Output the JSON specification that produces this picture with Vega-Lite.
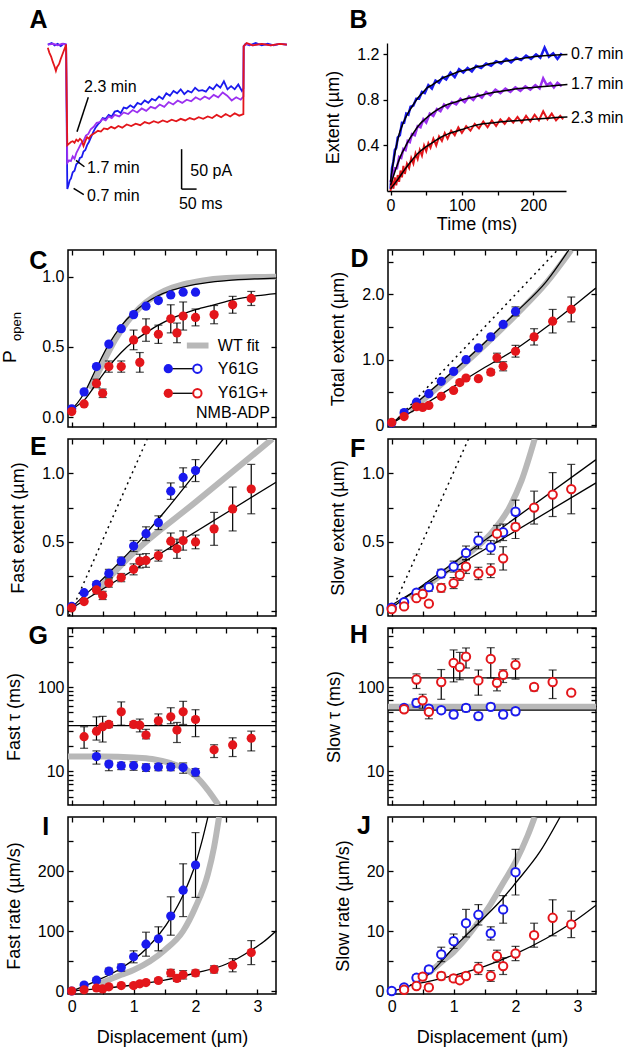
{
"$schema":"https://vega.github.io/schema/vega-lite/v6.json",
"background":"white",
"padding":{"left":0,"top":8,"right":5,"bottom":5},
"spacing":13,
"datasets":{
"ta":[
{"k":"b","t":-63,"v":0},{"k":"b","t":-50,"v":2},{"k":"b","t":-40,"v":-1},{"k":"b","t":-30,"v":1},{"k":"b","t":-20,"v":-2},{"k":"b","t":-10,"v":1},{"k":"b","t":-2,"v":0},{"k":"b","t":0,"v":-100},{"k":"b","t":2,"v":-181},{"k":"b","t":6,"v":-176},{"k":"b","t":10,"v":-170},{"k":"b","t":14,"v":-168},{"k":"b","t":20,"v":-160},{"k":"b","t":26,"v":-158},{"k":"b","t":32,"v":-150},{"k":"b","t":38,"v":-148},{"k":"b","t":44,"v":-142},{"k":"b","t":50,"v":-141},{"k":"b","t":56,"v":-134},{"k":"b","t":62,"v":-132},{"k":"b","t":68,"v":-126},{"k":"b","t":74,"v":-122},{"k":"b","t":80,"v":-117},{"k":"b","t":88,"v":-110},{"k":"b","t":96,"v":-104},{"k":"b","t":104,"v":-100},{"k":"b","t":112,"v":-97},{"k":"b","t":120,"v":-92},{"k":"b","t":130,"v":-93},{"k":"b","t":140,"v":-88},{"k":"b","t":150,"v":-90},{"k":"b","t":160,"v":-84},{"k":"b","t":170,"v":-83},{"k":"b","t":180,"v":-86},{"k":"b","t":190,"v":-79},{"k":"b","t":200,"v":-80},{"k":"b","t":212,"v":-76},{"k":"b","t":224,"v":-79},{"k":"b","t":236,"v":-73},{"k":"b","t":248,"v":-75},{"k":"b","t":260,"v":-70},{"k":"b","t":272,"v":-73},{"k":"b","t":284,"v":-68},{"k":"b","t":296,"v":-70},{"k":"b","t":308,"v":-65},{"k":"b","t":320,"v":-68},{"k":"b","t":332,"v":-61},{"k":"b","t":344,"v":-64},{"k":"b","t":356,"v":-58},{"k":"b","t":368,"v":-61},{"k":"b","t":380,"v":-56},{"k":"b","t":392,"v":-62},{"k":"b","t":404,"v":-58},{"k":"b","t":416,"v":-60},{"k":"b","t":428,"v":-54},{"k":"b","t":440,"v":-58},{"k":"b","t":452,"v":-57},{"k":"b","t":464,"v":-59},{"k":"b","t":476,"v":-53},{"k":"b","t":488,"v":-56},{"k":"b","t":500,"v":-50},{"k":"b","t":512,"v":-54},{"k":"b","t":524,"v":-46},{"k":"b","t":536,"v":-56},{"k":"b","t":548,"v":-52},{"k":"b","t":560,"v":-56},{"k":"b","t":572,"v":-50},{"k":"b","t":584,"v":-58},{"k":"b","t":589,"v":-55},{"k":"b","t":590,"v":-2},{"k":"b","t":596,"v":1},{"k":"b","t":610,"v":-1},{"k":"b","t":630,"v":2},{"k":"b","t":650,"v":-1},{"k":"b","t":670,"v":1},{"k":"b","t":690,"v":-1},{"k":"b","t":710,"v":1},{"k":"b","t":734,"v":0},
{"k":"p","t":-63,"v":0},{"k":"p","t":-45,"v":1},{"k":"p","t":-30,"v":-1},{"k":"p","t":-15,"v":1},{"k":"p","t":-2,"v":0},{"k":"p","t":0,"v":-80},{"k":"p","t":2,"v":-148},{"k":"p","t":8,"v":-145},{"k":"p","t":14,"v":-146},{"k":"p","t":20,"v":-140},{"k":"p","t":26,"v":-143},{"k":"p","t":32,"v":-136},{"k":"p","t":40,"v":-130},{"k":"p","t":48,"v":-124},{"k":"p","t":56,"v":-121},{"k":"p","t":64,"v":-114},{"k":"p","t":72,"v":-112},{"k":"p","t":80,"v":-106},{"k":"p","t":90,"v":-103},{"k":"p","t":100,"v":-98},{"k":"p","t":110,"v":-97},{"k":"p","t":120,"v":-93},{"k":"p","t":130,"v":-95},{"k":"p","t":140,"v":-90},{"k":"p","t":150,"v":-92},{"k":"p","t":160,"v":-88},{"k":"p","t":175,"v":-90},{"k":"p","t":190,"v":-85},{"k":"p","t":205,"v":-87},{"k":"p","t":220,"v":-82},{"k":"p","t":235,"v":-85},{"k":"p","t":250,"v":-80},{"k":"p","t":265,"v":-83},{"k":"p","t":280,"v":-78},{"k":"p","t":295,"v":-80},{"k":"p","t":310,"v":-75},{"k":"p","t":325,"v":-78},{"k":"p","t":340,"v":-72},{"k":"p","t":355,"v":-75},{"k":"p","t":370,"v":-70},{"k":"p","t":385,"v":-73},{"k":"p","t":400,"v":-69},{"k":"p","t":415,"v":-71},{"k":"p","t":430,"v":-66},{"k":"p","t":445,"v":-69},{"k":"p","t":460,"v":-65},{"k":"p","t":475,"v":-68},{"k":"p","t":490,"v":-63},{"k":"p","t":505,"v":-66},{"k":"p","t":520,"v":-60},{"k":"p","t":535,"v":-64},{"k":"p","t":550,"v":-70},{"k":"p","t":565,"v":-66},{"k":"p","t":580,"v":-69},{"k":"p","t":589,"v":-65},{"k":"p","t":590,"v":-2},{"k":"p","t":600,"v":1},{"k":"p","t":620,"v":-1},{"k":"p","t":650,"v":1},{"k":"p","t":680,"v":-1},{"k":"p","t":710,"v":1},{"k":"p","t":734,"v":0},
{"k":"r","t":-63,"v":-4},{"k":"r","t":-58,"v":-10},{"k":"r","t":-52,"v":-15},{"k":"r","t":-46,"v":-22},{"k":"r","t":-40,"v":-28},{"k":"r","t":-36,"v":-33},{"k":"r","t":-32,"v":-28},{"k":"r","t":-28,"v":-26},{"k":"r","t":-25,"v":-24},{"k":"r","t":-20,"v":-18},{"k":"r","t":-15,"v":-13},{"k":"r","t":-10,"v":-8},{"k":"r","t":-5,"v":-3},{"k":"r","t":-2,"v":0},{"k":"r","t":0,"v":-70},{"k":"r","t":2,"v":-126},{"k":"r","t":8,"v":-124},{"k":"r","t":14,"v":-122},{"k":"r","t":20,"v":-121},{"k":"r","t":26,"v":-123},{"k":"r","t":32,"v":-119},{"k":"r","t":38,"v":-121},{"k":"r","t":44,"v":-118},{"k":"r","t":50,"v":-120},{"k":"r","t":56,"v":-127},{"k":"r","t":62,"v":-121},{"k":"r","t":68,"v":-116},{"k":"r","t":74,"v":-118},{"k":"r","t":80,"v":-114},{"k":"r","t":88,"v":-112},{"k":"r","t":96,"v":-110},{"k":"r","t":104,"v":-108},{"k":"r","t":114,"v":-109},{"k":"r","t":124,"v":-105},{"k":"r","t":136,"v":-106},{"k":"r","t":148,"v":-103},{"k":"r","t":160,"v":-105},{"k":"r","t":172,"v":-102},{"k":"r","t":185,"v":-104},{"k":"r","t":200,"v":-100},{"k":"r","t":215,"v":-102},{"k":"r","t":230,"v":-99},{"k":"r","t":245,"v":-101},{"k":"r","t":260,"v":-97},{"k":"r","t":275,"v":-99},{"k":"r","t":290,"v":-96},{"k":"r","t":305,"v":-98},{"k":"r","t":320,"v":-95},{"k":"r","t":335,"v":-97},{"k":"r","t":350,"v":-94},{"k":"r","t":365,"v":-96},{"k":"r","t":380,"v":-93},{"k":"r","t":395,"v":-95},{"k":"r","t":410,"v":-92},{"k":"r","t":425,"v":-94},{"k":"r","t":440,"v":-91},{"k":"r","t":455,"v":-93},{"k":"r","t":470,"v":-90},{"k":"r","t":485,"v":-92},{"k":"r","t":500,"v":-88},{"k":"r","t":515,"v":-91},{"k":"r","t":530,"v":-87},{"k":"r","t":545,"v":-90},{"k":"r","t":560,"v":-86},{"k":"r","t":575,"v":-89},{"k":"r","t":589,"v":-87},{"k":"r","t":590,"v":-2},{"k":"r","t":600,"v":2},{"k":"r","t":620,"v":-1},{"k":"r","t":650,"v":1},{"k":"r","t":680,"v":-1},{"k":"r","t":710,"v":1},{"k":"r","t":734,"v":0}
],
"tb":[
{"k":"b","t":0,"v":0.02},{"k":"b","t":2,"v":0.2},{"k":"b","t":4,"v":0.26},{"k":"b","t":6,"v":0.36},{"k":"b","t":8,"v":0.38},{"k":"b","t":10,"v":0.47},{"k":"b","t":13,"v":0.49},{"k":"b","t":16,"v":0.6},{"k":"b","t":19,"v":0.6},{"k":"b","t":22,"v":0.68},{"k":"b","t":25,"v":0.67},{"k":"b","t":28,"v":0.74},{"k":"b","t":32,"v":0.75},{"k":"b","t":36,"v":0.81},{"k":"b","t":40,"v":0.81},{"k":"b","t":44,"v":0.87},{"k":"b","t":48,"v":0.86},{"k":"b","t":53,"v":0.93},{"k":"b","t":58,"v":0.9},{"k":"b","t":63,"v":0.97},{"k":"b","t":68,"v":0.95},{"k":"b","t":73,"v":1.0},{"k":"b","t":78,"v":0.98},{"k":"b","t":84,"v":1.04},{"k":"b","t":90,"v":1.0},{"k":"b","t":96,"v":1.07},{"k":"b","t":102,"v":1.04},{"k":"b","t":108,"v":1.08},{"k":"b","t":114,"v":1.05},{"k":"b","t":120,"v":1.1},{"k":"b","t":127,"v":1.08},{"k":"b","t":134,"v":1.12},{"k":"b","t":141,"v":1.1},{"k":"b","t":148,"v":1.14},{"k":"b","t":155,"v":1.12},{"k":"b","t":162,"v":1.16},{"k":"b","t":169,"v":1.13},{"k":"b","t":176,"v":1.17},{"k":"b","t":183,"v":1.15},{"k":"b","t":190,"v":1.19},{"k":"b","t":197,"v":1.16},{"k":"b","t":204,"v":1.2},{"k":"b","t":210,"v":1.17},{"k":"b","t":216,"v":1.26},{"k":"b","t":222,"v":1.18},{"k":"b","t":228,"v":1.21},{"k":"b","t":234,"v":1.16},{"k":"b","t":240,"v":1.21},
{"k":"p","t":0,"v":0.08},{"k":"p","t":3,"v":0.14},{"k":"p","t":6,"v":0.2},{"k":"p","t":9,"v":0.2},{"k":"p","t":12,"v":0.3},{"k":"p","t":15,"v":0.29},{"k":"p","t":18,"v":0.37},{"k":"p","t":21,"v":0.36},{"k":"p","t":24,"v":0.44},{"k":"p","t":27,"v":0.43},{"k":"p","t":30,"v":0.5},{"k":"p","t":34,"v":0.49},{"k":"p","t":38,"v":0.57},{"k":"p","t":42,"v":0.56},{"k":"p","t":46,"v":0.63},{"k":"p","t":50,"v":0.6},{"k":"p","t":55,"v":0.68},{"k":"p","t":60,"v":0.66},{"k":"p","t":65,"v":0.72},{"k":"p","t":70,"v":0.7},{"k":"p","t":75,"v":0.76},{"k":"p","t":80,"v":0.73},{"k":"p","t":86,"v":0.78},{"k":"p","t":92,"v":0.76},{"k":"p","t":98,"v":0.81},{"k":"p","t":104,"v":0.78},{"k":"p","t":110,"v":0.83},{"k":"p","t":116,"v":0.8},{"k":"p","t":122,"v":0.85},{"k":"p","t":128,"v":0.82},{"k":"p","t":134,"v":0.87},{"k":"p","t":140,"v":0.84},{"k":"p","t":147,"v":0.89},{"k":"p","t":154,"v":0.86},{"k":"p","t":161,"v":0.9},{"k":"p","t":168,"v":0.87},{"k":"p","t":175,"v":0.91},{"k":"p","t":182,"v":0.88},{"k":"p","t":189,"v":0.92},{"k":"p","t":196,"v":0.89},{"k":"p","t":203,"v":0.93},{"k":"p","t":209,"v":0.9},{"k":"p","t":214,"v":0.99},{"k":"p","t":219,"v":0.93},{"k":"p","t":224,"v":0.95},{"k":"p","t":229,"v":0.91},{"k":"p","t":234,"v":0.95},{"k":"p","t":240,"v":0.92},
{"k":"r","t":0,"v":0.0},{"k":"r","t":2,"v":0.1},{"k":"r","t":4,"v":0.02},{"k":"r","t":6,"v":0.12},{"k":"r","t":8,"v":0.05},{"k":"r","t":10,"v":0.14},{"k":"r","t":12,"v":0.08},{"k":"r","t":14,"v":0.18},{"k":"r","t":16,"v":0.12},{"k":"r","t":18,"v":0.22},{"k":"r","t":20,"v":0.15},{"k":"r","t":23,"v":0.24},{"k":"r","t":26,"v":0.2},{"k":"r","t":29,"v":0.29},{"k":"r","t":32,"v":0.24},{"k":"r","t":35,"v":0.33},{"k":"r","t":38,"v":0.28},{"k":"r","t":41,"v":0.36},{"k":"r","t":44,"v":0.31},{"k":"r","t":47,"v":0.4},{"k":"r","t":50,"v":0.35},{"k":"r","t":53,"v":0.42},{"k":"r","t":56,"v":0.38},{"k":"r","t":60,"v":0.46},{"k":"r","t":64,"v":0.4},{"k":"r","t":68,"v":0.48},{"k":"r","t":72,"v":0.44},{"k":"r","t":76,"v":0.51},{"k":"r","t":80,"v":0.46},{"k":"r","t":85,"v":0.53},{"k":"r","t":90,"v":0.49},{"k":"r","t":95,"v":0.56},{"k":"r","t":100,"v":0.51},{"k":"r","t":106,"v":0.57},{"k":"r","t":112,"v":0.53},{"k":"r","t":118,"v":0.59},{"k":"r","t":124,"v":0.55},{"k":"r","t":130,"v":0.61},{"k":"r","t":136,"v":0.56},{"k":"r","t":142,"v":0.62},{"k":"r","t":148,"v":0.57},{"k":"r","t":154,"v":0.63},{"k":"r","t":160,"v":0.59},{"k":"r","t":166,"v":0.64},{"k":"r","t":172,"v":0.6},{"k":"r","t":178,"v":0.65},{"k":"r","t":184,"v":0.6},{"k":"r","t":190,"v":0.66},{"k":"r","t":196,"v":0.61},{"k":"r","t":202,"v":0.67},{"k":"r","t":208,"v":0.62},{"k":"r","t":214,"v":0.7},{"k":"r","t":220,"v":0.63},{"k":"r","t":226,"v":0.68},{"k":"r","t":232,"v":0.62},{"k":"r","t":238,"v":0.66},{"k":"r","t":242,"v":0.63}
],
"fb":[
{"k":"b","t":0,"v":0.08},{"k":"b","t":3,"v":0.22},{"k":"b","t":6,"v":0.33},{"k":"b","t":9,"v":0.42},{"k":"b","t":12,"v":0.5},{"k":"b","t":16,"v":0.57},{"k":"b","t":20,"v":0.63},{"k":"b","t":25,"v":0.69},{"k":"b","t":30,"v":0.74},{"k":"b","t":35,"v":0.79},{"k":"b","t":40,"v":0.83},{"k":"b","t":46,"v":0.87},{"k":"b","t":52,"v":0.91},{"k":"b","t":58,"v":0.93},{"k":"b","t":65,"v":0.96},{"k":"b","t":72,"v":0.99},{"k":"b","t":80,"v":1.01},{"k":"b","t":88,"v":1.03},{"k":"b","t":96,"v":1.05},{"k":"b","t":104,"v":1.06},{"k":"b","t":112,"v":1.07},{"k":"b","t":120,"v":1.09},{"k":"b","t":130,"v":1.1},{"k":"b","t":140,"v":1.12},{"k":"b","t":150,"v":1.13},{"k":"b","t":160,"v":1.14},{"k":"b","t":170,"v":1.15},{"k":"b","t":180,"v":1.16},{"k":"b","t":190,"v":1.17},{"k":"b","t":200,"v":1.18},{"k":"b","t":220,"v":1.19},{"k":"b","t":248,"v":1.2},
{"k":"p","t":0,"v":0.05},{"k":"p","t":5,"v":0.15},{"k":"p","t":10,"v":0.24},{"k":"p","t":15,"v":0.32},{"k":"p","t":20,"v":0.38},{"k":"p","t":25,"v":0.44},{"k":"p","t":30,"v":0.49},{"k":"p","t":40,"v":0.58},{"k":"p","t":50,"v":0.64},{"k":"p","t":60,"v":0.69},{"k":"p","t":70,"v":0.73},{"k":"p","t":80,"v":0.76},{"k":"p","t":90,"v":0.78},{"k":"p","t":100,"v":0.8},{"k":"p","t":120,"v":0.83},{"k":"p","t":140,"v":0.86},{"k":"p","t":160,"v":0.88},{"k":"p","t":180,"v":0.9},{"k":"p","t":200,"v":0.91},{"k":"p","t":220,"v":0.92},{"k":"p","t":248,"v":0.935},
{"k":"r","t":0,"v":0.02},{"k":"r","t":10,"v":0.1},{"k":"r","t":20,"v":0.19},{"k":"r","t":30,"v":0.27},{"k":"r","t":40,"v":0.34},{"k":"r","t":50,"v":0.39},{"k":"r","t":60,"v":0.43},{"k":"r","t":70,"v":0.47},{"k":"r","t":80,"v":0.5},{"k":"r","t":90,"v":0.52},{"k":"r","t":100,"v":0.54},{"k":"r","t":115,"v":0.57},{"k":"r","t":130,"v":0.59},{"k":"r","t":145,"v":0.6},{"k":"r","t":160,"v":0.61},{"k":"r","t":180,"v":0.62},{"k":"r","t":200,"v":0.63},{"k":"r","t":220,"v":0.64},{"k":"r","t":248,"v":0.65}
],
"lines":[
{"p":"C","k":"Cw","t":"wt","x":0.3,"y":0.2},{"p":"C","k":"Cw","t":"wt","x":0.5,"y":0.38},{"p":"C","k":"Cw","t":"wt","x":0.7,"y":0.55},{"p":"C","k":"Cw","t":"wt","x":0.9,"y":0.68},{"p":"C","k":"Cw","t":"wt","x":1.1,"y":0.78},{"p":"C","k":"Cw","t":"wt","x":1.3,"y":0.85},{"p":"C","k":"Cw","t":"wt","x":1.5,"y":0.9},{"p":"C","k":"Cw","t":"wt","x":1.8,"y":0.945},{"p":"C","k":"Cw","t":"wt","x":2.1,"y":0.972},{"p":"C","k":"Cw","t":"wt","x":2.5,"y":0.99},{"p":"C","k":"Cw","t":"wt","x":3.3,"y":1.0},
{"p":"C","k":"Cb","t":"fit","x":-0.06,"y":0.045},{"p":"C","k":"Cb","t":"fit","x":0,"y":0.06},{"p":"C","k":"Cb","t":"fit","x":0.2,"y":0.17},{"p":"C","k":"Cb","t":"fit","x":0.4,"y":0.35},{"p":"C","k":"Cb","t":"fit","x":0.6,"y":0.52},{"p":"C","k":"Cb","t":"fit","x":0.8,"y":0.65},{"p":"C","k":"Cb","t":"fit","x":1.0,"y":0.745},{"p":"C","k":"Cb","t":"fit","x":1.2,"y":0.815},{"p":"C","k":"Cb","t":"fit","x":1.4,"y":0.865},{"p":"C","k":"Cb","t":"fit","x":1.6,"y":0.9},{"p":"C","k":"Cb","t":"fit","x":1.8,"y":0.925},{"p":"C","k":"Cb","t":"fit","x":2.0,"y":0.945},{"p":"C","k":"Cb","t":"fit","x":2.5,"y":0.972},{"p":"C","k":"Cb","t":"fit","x":3.0,"y":0.985},{"p":"C","k":"Cb","t":"fit","x":3.3,"y":0.99},
{"p":"C","k":"Cr","t":"fit","x":-0.06,"y":0.02},{"p":"C","k":"Cr","t":"fit","x":0,"y":0.05},{"p":"C","k":"Cr","t":"fit","x":0.2,"y":0.12},{"p":"C","k":"Cr","t":"fit","x":0.4,"y":0.24},{"p":"C","k":"Cr","t":"fit","x":0.6,"y":0.36},{"p":"C","k":"Cr","t":"fit","x":0.8,"y":0.46},{"p":"C","k":"Cr","t":"fit","x":1.0,"y":0.54},{"p":"C","k":"Cr","t":"fit","x":1.2,"y":0.6},{"p":"C","k":"Cr","t":"fit","x":1.4,"y":0.655},{"p":"C","k":"Cr","t":"fit","x":1.6,"y":0.7},{"p":"C","k":"Cr","t":"fit","x":1.8,"y":0.735},{"p":"C","k":"Cr","t":"fit","x":2.0,"y":0.765},{"p":"C","k":"Cr","t":"fit","x":2.3,"y":0.8},{"p":"C","k":"Cr","t":"fit","x":2.6,"y":0.835},{"p":"C","k":"Cr","t":"fit","x":3.0,"y":0.865},{"p":"C","k":"Cr","t":"fit","x":3.3,"y":0.88},
{"p":"D","k":"Dd","t":"dot","x":-0.03,"y":-0.03},{"p":"D","k":"Dd","t":"dot","x":2.68,"y":2.68},
{"p":"D","k":"Dw","t":"wt","x":0.3,"y":0.22},{"p":"D","k":"Dw","t":"wt","x":1.0,"y":0.79},{"p":"D","k":"Dw","t":"wt","x":1.5,"y":1.22},{"p":"D","k":"Dw","t":"wt","x":2.0,"y":1.68},{"p":"D","k":"Dw","t":"wt","x":2.5,"y":2.18},{"p":"D","k":"Dw","t":"wt","x":2.9,"y":2.68},
{"p":"D","k":"Db","t":"fit","x":-0.06,"y":-0.03},{"p":"D","k":"Db","t":"fit","x":0,"y":0.02},{"p":"D","k":"Db","t":"fit","x":0.4,"y":0.34},{"p":"D","k":"Db","t":"fit","x":1.0,"y":0.83},{"p":"D","k":"Db","t":"fit","x":1.5,"y":1.26},{"p":"D","k":"Db","t":"fit","x":2.0,"y":1.72},{"p":"D","k":"Db","t":"fit","x":2.5,"y":2.2},{"p":"D","k":"Db","t":"fit","x":2.86,"y":2.68},
{"p":"D","k":"Dr","t":"fit","x":-0.06,"y":-0.02},{"p":"D","k":"Dr","t":"fit","x":0,"y":0.02},{"p":"D","k":"Dr","t":"fit","x":0.5,"y":0.3},{"p":"D","k":"Dr","t":"fit","x":1.0,"y":0.59},{"p":"D","k":"Dr","t":"fit","x":1.5,"y":0.88},{"p":"D","k":"Dr","t":"fit","x":2.0,"y":1.16},{"p":"D","k":"Dr","t":"fit","x":2.5,"y":1.5},{"p":"D","k":"Dr","t":"fit","x":3.0,"y":1.87},{"p":"D","k":"Dr","t":"fit","x":3.3,"y":2.1},
{"p":"E","k":"Ed","t":"dot","x":-0.04,"y":-0.04},{"p":"E","k":"Ed","t":"dot","x":1.22,"y":1.25},
{"p":"E","k":"Ew","t":"wt","x":0.4,"y":0.14},{"p":"E","k":"Ew","t":"wt","x":1.0,"y":0.42},{"p":"E","k":"Ew","t":"wt","x":2.0,"y":0.79},{"p":"E","k":"Ew","t":"wt","x":3.24,"y":1.25},
{"p":"E","k":"Eb","t":"fit","x":-0.06,"y":-0.01},{"p":"E","k":"Eb","t":"fit","x":0,"y":0.02},{"p":"E","k":"Eb","t":"fit","x":0.5,"y":0.23},{"p":"E","k":"Eb","t":"fit","x":1.0,"y":0.46},{"p":"E","k":"Eb","t":"fit","x":1.5,"y":0.72},{"p":"E","k":"Eb","t":"fit","x":2.0,"y":1.0},{"p":"E","k":"Eb","t":"fit","x":2.45,"y":1.25},
{"p":"E","k":"Er","t":"fit","x":-0.06,"y":0.0},{"p":"E","k":"Er","t":"fit","x":3.3,"y":0.935},
{"p":"F","k":"Fd","t":"dot","x":0,"y":0},{"p":"F","k":"Fd","t":"dot","x":1.24,"y":1.25},
{"p":"F","k":"Fw","t":"wt","x":0.3,"y":0.09},{"p":"F","k":"Fw","t":"wt","x":0.8,"y":0.26},{"p":"F","k":"Fw","t":"wt","x":1.2,"y":0.4},{"p":"F","k":"Fw","t":"wt","x":1.6,"y":0.56},{"p":"F","k":"Fw","t":"wt","x":1.9,"y":0.75},{"p":"F","k":"Fw","t":"wt","x":2.1,"y":0.95},{"p":"F","k":"Fw","t":"wt","x":2.31,"y":1.25},
{"p":"F","k":"Fb","t":"fit","x":0,"y":0.02},{"p":"F","k":"Fb","t":"fit","x":3.3,"y":1.1},
{"p":"F","k":"Fr","t":"fit","x":0,"y":0.04},{"p":"F","k":"Fr","t":"fit","x":3.3,"y":0.93},
{"p":"G","k":"Gf","t":"fit","x":-0.06,"y":34.8},{"p":"G","k":"Gf","t":"fit","x":3.3,"y":34.8},
{"p":"G","k":"Gw","t":"wt","x":-0.06,"y":15},{"p":"G","k":"Gw","t":"wt","x":0.5,"y":15},{"p":"G","k":"Gw","t":"wt","x":1.0,"y":14.6},{"p":"G","k":"Gw","t":"wt","x":1.3,"y":14},{"p":"G","k":"Gw","t":"wt","x":1.6,"y":12.5},{"p":"G","k":"Gw","t":"wt","x":1.8,"y":11},{"p":"G","k":"Gw","t":"wt","x":2.0,"y":8.8},{"p":"G","k":"Gw","t":"wt","x":2.2,"y":6},{"p":"G","k":"Gw","t":"wt","x":2.37,"y":4},
{"p":"H","k":"Hr","t":"fit","x":-0.06,"y":128.6},{"p":"H","k":"Hr","t":"fit","x":3.3,"y":128.6},
{"p":"H","k":"Hb","t":"fit","x":-0.06,"y":53.1},{"p":"H","k":"Hb","t":"fit","x":3.3,"y":53.1},
{"p":"H","k":"Hw","t":"wt","x":-0.06,"y":58.2},{"p":"H","k":"Hw","t":"wt","x":3.3,"y":58.2},
{"p":"I","k":"Ib","t":"fit","x":0,"y":0},{"p":"I","k":"Ib","t":"fit","x":0.4,"y":17},{"p":"I","k":"Ib","t":"fit","x":0.8,"y":38},{"p":"I","k":"Ib","t":"fit","x":1.2,"y":70},{"p":"I","k":"Ib","t":"fit","x":1.6,"y":122},{"p":"I","k":"Ib","t":"fit","x":1.8,"y":160},{"p":"I","k":"Ib","t":"fit","x":2.0,"y":212},{"p":"I","k":"Ib","t":"fit","x":2.1,"y":248},{"p":"I","k":"Ib","t":"fit","x":2.2,"y":290},
{"p":"I","k":"Ir","t":"fit","x":-0.06,"y":0},{"p":"I","k":"Ir","t":"fit","x":0.5,"y":4.5},{"p":"I","k":"Ir","t":"fit","x":1.0,"y":10},{"p":"I","k":"Ir","t":"fit","x":1.5,"y":18},{"p":"I","k":"Ir","t":"fit","x":2.0,"y":30},{"p":"I","k":"Ir","t":"fit","x":2.5,"y":45},{"p":"I","k":"Ir","t":"fit","x":2.9,"y":68},{"p":"I","k":"Ir","t":"fit","x":3.1,"y":82},{"p":"I","k":"Ir","t":"fit","x":3.3,"y":100},
{"p":"I","k":"Iw","t":"wt","x":0.45,"y":12},{"p":"I","k":"Iw","t":"wt","x":0.8,"y":27},{"p":"I","k":"Iw","t":"wt","x":1.0,"y":35},{"p":"I","k":"Iw","t":"wt","x":1.5,"y":68},{"p":"I","k":"Iw","t":"wt","x":1.8,"y":100},{"p":"I","k":"Iw","t":"wt","x":2.0,"y":140},{"p":"I","k":"Iw","t":"wt","x":2.2,"y":195},{"p":"I","k":"Iw","t":"wt","x":2.3,"y":240},{"p":"I","k":"Iw","t":"wt","x":2.38,"y":290},
{"p":"J","k":"Jb","t":"fit","x":-0.06,"y":-0.1},{"p":"J","k":"Jb","t":"fit","x":0,"y":0},{"p":"J","k":"Jb","t":"fit","x":0.3,"y":0.9},{"p":"J","k":"Jb","t":"fit","x":0.6,"y":2.8},{"p":"J","k":"Jb","t":"fit","x":1.0,"y":7.2},{"p":"J","k":"Jb","t":"fit","x":1.4,"y":11.3},{"p":"J","k":"Jb","t":"fit","x":1.8,"y":15.5},{"p":"J","k":"Jb","t":"fit","x":2.0,"y":18},{"p":"J","k":"Jb","t":"fit","x":2.4,"y":23.3},{"p":"J","k":"Jb","t":"fit","x":2.72,"y":29},
{"p":"J","k":"Jw","t":"wt","x":0.6,"y":3},{"p":"J","k":"Jw","t":"wt","x":0.8,"y":4.8},{"p":"J","k":"Jw","t":"wt","x":1.0,"y":6.5},{"p":"J","k":"Jw","t":"wt","x":1.2,"y":8.8},{"p":"J","k":"Jw","t":"wt","x":1.4,"y":11.5},{"p":"J","k":"Jw","t":"wt","x":1.6,"y":14.5},{"p":"J","k":"Jw","t":"wt","x":1.8,"y":18},{"p":"J","k":"Jw","t":"wt","x":2.0,"y":21.5},{"p":"J","k":"Jw","t":"wt","x":2.2,"y":26},{"p":"J","k":"Jw","t":"wt","x":2.31,"y":29},
{"p":"J","k":"Jr","t":"fit","x":0.3,"y":1.0},{"p":"J","k":"Jr","t":"fit","x":0.6,"y":1.6},{"p":"J","k":"Jr","t":"fit","x":1.0,"y":2.6},{"p":"J","k":"Jr","t":"fit","x":1.5,"y":4.1},{"p":"J","k":"Jr","t":"fit","x":2.0,"y":6.2},{"p":"J","k":"Jr","t":"fit","x":2.5,"y":8.8},{"p":"J","k":"Jr","t":"fit","x":3.0,"y":12},{"p":"J","k":"Jr","t":"fit","x":3.3,"y":14.3}
],
"pts":[
{"p":"C","s":"b","x":0,"y":0.06},{"p":"C","s":"b","x":0.2,"y":0.18},{"p":"C","s":"b","x":0.4,"y":0.36},{"p":"C","s":"b","x":0.6,"y":0.52},{"p":"C","s":"b","x":0.8,"y":0.63},{"p":"C","s":"b","x":1.0,"y":0.73},{"p":"C","s":"b","x":1.2,"y":0.79},{"p":"C","s":"b","x":1.4,"y":0.83},{"p":"C","s":"b","x":1.6,"y":0.87},{"p":"C","s":"b","x":1.8,"y":0.89},{"p":"C","s":"b","x":2.0,"y":0.89},
{"p":"C","s":"r","x":0,"y":0.04},{"p":"C","s":"r","x":0.2,"y":0.094},{"p":"C","s":"r","x":0.4,"y":0.24,"lo":0.21,"hi":0.27},{"p":"C","s":"r","x":0.5,"y":0.17,"lo":0.14,"hi":0.2},{"p":"C","s":"r","x":0.6,"y":0.36,"lo":0.32,"hi":0.4},{"p":"C","s":"r","x":0.8,"y":0.36,"lo":0.32,"hi":0.4},{"p":"C","s":"r","x":1.0,"y":0.55,"lo":0.48,"hi":0.62},{"p":"C","s":"r","x":1.1,"y":0.39,"lo":0.32,"hi":0.46},{"p":"C","s":"r","x":1.2,"y":0.62,"lo":0.54,"hi":0.7},{"p":"C","s":"r","x":1.4,"y":0.59,"lo":0.525,"hi":0.655},{"p":"C","s":"r","x":1.6,"y":0.7,"lo":0.6,"hi":0.8},{"p":"C","s":"r","x":1.7,"y":0.6,"lo":0.53,"hi":0.67},{"p":"C","s":"r","x":1.8,"y":0.72,"lo":0.62,"hi":0.82},{"p":"C","s":"r","x":2.0,"y":0.71,"lo":0.65,"hi":0.77},{"p":"C","s":"r","x":2.3,"y":0.73,"lo":0.665,"hi":0.795},{"p":"C","s":"r","x":2.6,"y":0.8,"lo":0.74,"hi":0.86},{"p":"C","s":"r","x":2.9,"y":0.845,"lo":0.795,"hi":0.895},
{"p":"D","s":"b","x":0,"y":0.03},{"p":"D","s":"b","x":0.2,"y":0.19},{"p":"D","s":"b","x":0.4,"y":0.35},{"p":"D","s":"b","x":0.6,"y":0.48},{"p":"D","s":"b","x":0.8,"y":0.67},{"p":"D","s":"b","x":1.0,"y":0.82},{"p":"D","s":"b","x":1.2,"y":1.0},{"p":"D","s":"b","x":1.4,"y":1.18},{"p":"D","s":"b","x":1.6,"y":1.35},{"p":"D","s":"b","x":1.8,"y":1.54},{"p":"D","s":"b","x":2.0,"y":1.74,"lo":1.67,"hi":1.81},
{"p":"D","s":"r","x":0,"y":0.04},{"p":"D","s":"r","x":0.2,"y":0.13},{"p":"D","s":"r","x":0.4,"y":0.28},{"p":"D","s":"r","x":0.5,"y":0.27},{"p":"D","s":"r","x":0.6,"y":0.3},{"p":"D","s":"r","x":0.8,"y":0.44},{"p":"D","s":"r","x":1.0,"y":0.53},{"p":"D","s":"r","x":1.1,"y":0.65,"lo":0.62,"hi":0.68},{"p":"D","s":"r","x":1.2,"y":0.72},{"p":"D","s":"r","x":1.4,"y":0.71},{"p":"D","s":"r","x":1.6,"y":0.81,"lo":0.77,"hi":0.85},{"p":"D","s":"r","x":1.7,"y":1.03,"lo":0.96,"hi":1.1},{"p":"D","s":"r","x":1.8,"y":0.9,"lo":0.83,"hi":0.97},{"p":"D","s":"r","x":2.0,"y":1.13,"lo":1.04,"hi":1.22},{"p":"D","s":"r","x":2.3,"y":1.35,"lo":1.225,"hi":1.475},{"p":"D","s":"r","x":2.6,"y":1.59,"lo":1.41,"hi":1.77},{"p":"D","s":"r","x":2.9,"y":1.77,"lo":1.58,"hi":1.96},
{"p":"E","s":"b","x":0,"y":0.03},{"p":"E","s":"b","x":0.2,"y":0.13},{"p":"E","s":"b","x":0.4,"y":0.19,"lo":0.17,"hi":0.21},{"p":"E","s":"b","x":0.6,"y":0.27,"lo":0.24,"hi":0.3},{"p":"E","s":"b","x":0.8,"y":0.36,"lo":0.33,"hi":0.39},{"p":"E","s":"b","x":1.0,"y":0.47,"lo":0.43,"hi":0.51},{"p":"E","s":"b","x":1.2,"y":0.56,"lo":0.51,"hi":0.61},{"p":"E","s":"b","x":1.4,"y":0.64,"lo":0.59,"hi":0.69},{"p":"E","s":"b","x":1.6,"y":0.87,"lo":0.81,"hi":0.93},{"p":"E","s":"b","x":1.8,"y":0.97,"lo":0.9,"hi":1.04},{"p":"E","s":"b","x":2.0,"y":1.02,"lo":0.94,"hi":1.1},
{"p":"E","s":"r","x":0,"y":0.02},{"p":"E","s":"r","x":0.2,"y":0.065},{"p":"E","s":"r","x":0.4,"y":0.15,"lo":0.12,"hi":0.18},{"p":"E","s":"r","x":0.5,"y":0.11,"lo":0.08,"hi":0.14},{"p":"E","s":"r","x":0.6,"y":0.2,"lo":0.17,"hi":0.23},{"p":"E","s":"r","x":0.8,"y":0.24,"lo":0.21,"hi":0.27},{"p":"E","s":"r","x":1.0,"y":0.3,"lo":0.26,"hi":0.34},{"p":"E","s":"r","x":1.1,"y":0.36,"lo":0.31,"hi":0.41},{"p":"E","s":"r","x":1.2,"y":0.365,"lo":0.315,"hi":0.415},{"p":"E","s":"r","x":1.4,"y":0.4,"lo":0.36,"hi":0.44},{"p":"E","s":"r","x":1.6,"y":0.505,"lo":0.445,"hi":0.565},{"p":"E","s":"r","x":1.7,"y":0.45,"lo":0.38,"hi":0.52},{"p":"E","s":"r","x":1.8,"y":0.51,"lo":0.44,"hi":0.58},{"p":"E","s":"r","x":2.0,"y":0.5,"lo":0.45,"hi":0.55},{"p":"E","s":"r","x":2.3,"y":0.595,"lo":0.475,"hi":0.715},{"p":"E","s":"r","x":2.6,"y":0.74,"lo":0.58,"hi":0.9},{"p":"E","s":"r","x":2.9,"y":0.885,"lo":0.705,"hi":1.065},
{"p":"F","s":"b","x":0,"y":0.02},{"p":"F","s":"b","x":0.2,"y":0.06},{"p":"F","s":"b","x":0.4,"y":0.13},{"p":"F","s":"b","x":0.6,"y":0.17,"lo":0.14,"hi":0.2},{"p":"F","s":"b","x":0.8,"y":0.27,"lo":0.24,"hi":0.3},{"p":"F","s":"b","x":1.0,"y":0.32,"lo":0.28,"hi":0.36},{"p":"F","s":"b","x":1.2,"y":0.42,"lo":0.37,"hi":0.47},{"p":"F","s":"b","x":1.4,"y":0.51,"lo":0.45,"hi":0.57},{"p":"F","s":"b","x":1.6,"y":0.46,"lo":0.41,"hi":0.51},{"p":"F","s":"b","x":1.8,"y":0.57,"lo":0.51,"hi":0.63},{"p":"F","s":"b","x":2.0,"y":0.72,"lo":0.635,"hi":0.805},
{"p":"F","s":"r","x":0,"y":0.01},{"p":"F","s":"r","x":0.2,"y":0.03},{"p":"F","s":"r","x":0.4,"y":0.09},{"p":"F","s":"r","x":0.5,"y":0.12},{"p":"F","s":"r","x":0.6,"y":0.05},{"p":"F","s":"r","x":0.8,"y":0.165,"lo":0.135,"hi":0.195},{"p":"F","s":"r","x":1.0,"y":0.2,"lo":0.16,"hi":0.24},{"p":"F","s":"r","x":1.1,"y":0.26,"lo":0.22,"hi":0.3},{"p":"F","s":"r","x":1.2,"y":0.32,"lo":0.27,"hi":0.37},{"p":"F","s":"r","x":1.4,"y":0.27,"lo":0.225,"hi":0.315},{"p":"F","s":"r","x":1.6,"y":0.29,"lo":0.24,"hi":0.34},{"p":"F","s":"r","x":1.7,"y":0.56,"lo":0.5,"hi":0.62},{"p":"F","s":"r","x":1.8,"y":0.38,"lo":0.295,"hi":0.465},{"p":"F","s":"r","x":2.0,"y":0.61,"lo":0.525,"hi":0.695},{"p":"F","s":"r","x":2.3,"y":0.75,"lo":0.63,"hi":0.87},{"p":"F","s":"r","x":2.6,"y":0.845,"lo":0.685,"hi":1.005},{"p":"F","s":"r","x":2.9,"y":0.885,"lo":0.705,"hi":1.065},
{"p":"G","s":"b","x":0.4,"y":15.0,"lo":12.2,"hi":17.5},{"p":"G","s":"b","x":0.6,"y":12.2,"lo":10.2,"hi":13.2},{"p":"G","s":"b","x":0.8,"y":11.7,"lo":10.5,"hi":12.8},{"p":"G","s":"b","x":1.0,"y":11.7,"lo":10.3,"hi":13},{"p":"G","s":"b","x":1.2,"y":11.1,"lo":10,"hi":12.3},{"p":"G","s":"b","x":1.4,"y":11.3,"lo":10.2,"hi":12.4},{"p":"G","s":"b","x":1.6,"y":11.3,"lo":10.2,"hi":12.4},{"p":"G","s":"b","x":1.8,"y":11.1,"lo":9.5,"hi":12.6},{"p":"G","s":"b","x":2.0,"y":9.8,"lo":8.8,"hi":10.8},
{"p":"G","s":"r","x":0.2,"y":25.8,"lo":18.8,"hi":33.8},{"p":"G","s":"r","x":0.4,"y":30.0,"lo":23.5,"hi":44.3},{"p":"G","s":"r","x":0.5,"y":33.8,"lo":22.3,"hi":44.9},{"p":"G","s":"r","x":0.6,"y":36.0,"lo":33,"hi":39},{"p":"G","s":"r","x":0.8,"y":50.8,"lo":35.3,"hi":66.6},{"p":"G","s":"r","x":1.0,"y":36,"lo":33,"hi":39},{"p":"G","s":"r","x":1.1,"y":35.3,"lo":29.4,"hi":41.7},{"p":"G","s":"r","x":1.2,"y":27.0,"lo":24.3,"hi":31.5},{"p":"G","s":"r","x":1.4,"y":39.8,"lo":36,"hi":48},{"p":"G","s":"r","x":1.6,"y":44.3,"lo":36.7,"hi":56.8},{"p":"G","s":"r","x":1.7,"y":30.9,"lo":22,"hi":38},{"p":"G","s":"r","x":1.8,"y":50.8,"lo":36,"hi":67.6},{"p":"G","s":"r","x":2.0,"y":41.2,"lo":25.8,"hi":53.8},{"p":"G","s":"r","x":2.3,"y":18.0,"lo":14.6,"hi":20.7},{"p":"G","s":"r","x":2.6,"y":20.6,"lo":15,"hi":25},{"p":"G","s":"r","x":2.9,"y":24.7,"lo":17.5,"hi":30},
{"p":"H","s":"b","x":0.2,"y":56.5},{"p":"H","s":"b","x":0.4,"y":64.9,"lo":58,"hi":72},{"p":"H","s":"b","x":0.6,"y":55.5,"lo":51,"hi":60},{"p":"H","s":"b","x":0.8,"y":53.1,"lo":49,"hi":57},{"p":"H","s":"b","x":1.0,"y":47.2,"lo":43,"hi":51},{"p":"H","s":"b","x":1.2,"y":56.5,"lo":51,"hi":62},{"p":"H","s":"b","x":1.4,"y":45.2,"lo":41,"hi":49},{"p":"H","s":"b","x":1.6,"y":58.2,"lo":53,"hi":64},{"p":"H","s":"b","x":1.8,"y":47.2,"lo":43,"hi":51},{"p":"H","s":"b","x":2.0,"y":51.6,"lo":47,"hi":56},
{"p":"H","s":"r","x":0.2,"y":54.5,"lo":50,"hi":60},{"p":"H","s":"r","x":0.4,"y":122.8,"lo":96,"hi":143},{"p":"H","s":"r","x":0.5,"y":69.5,"lo":56,"hi":82},{"p":"H","s":"r","x":0.6,"y":50.8,"lo":42,"hi":55},{"p":"H","s":"r","x":0.8,"y":114.5,"lo":71.5,"hi":161},{"p":"H","s":"r","x":1.0,"y":193,"lo":115,"hi":275},{"p":"H","s":"r","x":1.1,"y":172,"lo":122,"hi":257},{"p":"H","s":"r","x":1.2,"y":229,"lo":168,"hi":290},{"p":"H","s":"r","x":1.4,"y":119.6,"lo":80,"hi":159},{"p":"H","s":"r","x":1.6,"y":215,"lo":128,"hi":292},{"p":"H","s":"r","x":1.7,"y":112,"lo":90,"hi":125},{"p":"H","s":"r","x":1.8,"y":139.6,"lo":113,"hi":160},{"p":"H","s":"r","x":2.0,"y":183,"lo":124,"hi":215},{"p":"H","s":"r","x":2.3,"y":100,"lo":90,"hi":108},{"p":"H","s":"r","x":2.6,"y":114.5,"lo":73,"hi":159},{"p":"H","s":"r","x":2.9,"y":85.7},
{"p":"I","s":"b","x":0,"y":0},{"p":"I","s":"b","x":0.2,"y":10,"lo":7,"hi":13},{"p":"I","s":"b","x":0.4,"y":18,"lo":14,"hi":22},{"p":"I","s":"b","x":0.6,"y":33,"lo":28,"hi":38},{"p":"I","s":"b","x":0.8,"y":39,"lo":33,"hi":45},{"p":"I","s":"b","x":1.0,"y":57,"lo":47,"hi":67},{"p":"I","s":"b","x":1.2,"y":78,"lo":58,"hi":98},{"p":"I","s":"b","x":1.4,"y":87,"lo":67,"hi":107},{"p":"I","s":"b","x":1.6,"y":125,"lo":93,"hi":157},{"p":"I","s":"b","x":1.8,"y":168,"lo":124,"hi":212},{"p":"I","s":"b","x":2.0,"y":210,"lo":156,"hi":264},
{"p":"I","s":"r","x":0,"y":0},{"p":"I","s":"r","x":0.2,"y":2},{"p":"I","s":"r","x":0.4,"y":5,"lo":3,"hi":7},{"p":"I","s":"r","x":0.5,"y":3.5,"lo":1.5,"hi":5.5},{"p":"I","s":"r","x":0.6,"y":7,"lo":5,"hi":9},{"p":"I","s":"r","x":0.8,"y":9,"lo":7,"hi":11},{"p":"I","s":"r","x":1.0,"y":9,"lo":6,"hi":12},{"p":"I","s":"r","x":1.1,"y":12,"lo":9,"hi":15},{"p":"I","s":"r","x":1.2,"y":14,"lo":11,"hi":17},{"p":"I","s":"r","x":1.4,"y":17.5,"lo":14.5,"hi":20.5},{"p":"I","s":"r","x":1.6,"y":30,"lo":24,"hi":36},{"p":"I","s":"r","x":1.7,"y":21,"lo":16,"hi":26},{"p":"I","s":"r","x":1.8,"y":27,"lo":20,"hi":34},{"p":"I","s":"r","x":2.0,"y":30,"lo":25,"hi":35},{"p":"I","s":"r","x":2.3,"y":36,"lo":30,"hi":42},{"p":"I","s":"r","x":2.6,"y":43,"lo":32,"hi":54},{"p":"I","s":"r","x":2.9,"y":64,"lo":44,"hi":84},
{"p":"J","s":"b","x":0,"y":0},{"p":"J","s":"b","x":0.2,"y":0.6},{"p":"J","s":"b","x":0.4,"y":2.2,"lo":1.7,"hi":2.7},{"p":"J","s":"b","x":0.6,"y":3.6,"lo":3.1,"hi":4.1},{"p":"J","s":"b","x":0.8,"y":6.1,"lo":4.9,"hi":7.3},{"p":"J","s":"b","x":1.0,"y":8.3,"lo":7.1,"hi":9.5},{"p":"J","s":"b","x":1.2,"y":11.3,"lo":9,"hi":13.6},{"p":"J","s":"b","x":1.4,"y":12.7,"lo":11,"hi":14.4},{"p":"J","s":"b","x":1.6,"y":9.6,"lo":8.5,"hi":10.7},{"p":"J","s":"b","x":1.8,"y":13.6,"lo":11.3,"hi":15.9},{"p":"J","s":"b","x":2.0,"y":19.8,"lo":16,"hi":23.6},
{"p":"J","s":"r","x":0.2,"y":0.2},{"p":"J","s":"r","x":0.4,"y":0.83,"lo":0.5,"hi":1.1},{"p":"J","s":"r","x":0.5,"y":2.4,"lo":1.9,"hi":2.9},{"p":"J","s":"r","x":0.6,"y":0.6},{"p":"J","s":"r","x":0.8,"y":2.5,"lo":1.9,"hi":3.1},{"p":"J","s":"r","x":1.0,"y":2.1,"lo":1.6,"hi":2.6},{"p":"J","s":"r","x":1.1,"y":1.8,"lo":1.4,"hi":2.2},{"p":"J","s":"r","x":1.2,"y":2.5,"lo":2,"hi":3},{"p":"J","s":"r","x":1.4,"y":3.75,"lo":2.75,"hi":4.75},{"p":"J","s":"r","x":1.6,"y":2.5,"lo":1.6,"hi":3.4},{"p":"J","s":"r","x":1.7,"y":5.8,"lo":4.8,"hi":6.8},{"p":"J","s":"r","x":1.8,"y":4.15,"lo":2.75,"hi":5.55},{"p":"J","s":"r","x":2.0,"y":6.25,"lo":5.05,"hi":7.45},{"p":"J","s":"r","x":2.3,"y":9.3,"lo":7.3,"hi":11.3},{"p":"J","s":"r","x":2.6,"y":12.2,"lo":9.2,"hi":15.2},{"p":"J","s":"r","x":2.9,"y":11.1,"lo":8.9,"hi":13.3}
]
},
"vconcat":[
{"bounds":"flush","hconcat":[
 {"width":220,"height":148,"view":{"stroke":null},
  "encoding":{"x":{"field":"t","type":"quantitative","scale":{"domain":[4.3,737.7]},"axis":null},"y":{"field":"v","type":"quantitative","scale":{"domain":[-183.4,2]},"axis":null}},
  "layer":[
   {"data":{"name":"ta"},"transform":[{"filter":"datum.k=='b'"}],"mark":{"type":"line","color":"#1a1aee","strokeWidth":1.8}},
   {"data":{"name":"ta"},"transform":[{"filter":"datum.k=='p'"}],"mark":{"type":"line","color":"#9b30f0","strokeWidth":1.8}},
   {"data":{"name":"ta"},"transform":[{"filter":"datum.k=='r'"}],"mark":{"type":"line","color":"#e3161b","strokeWidth":1.8}},
   {"data":{"values":[{"t":72,"v":-65.9,"t2":34.3,"v2":-109.2},{"t":31,"v":-145,"t2":59,"v2":-153},{"t":23,"v":-180,"t2":57,"v2":-188},{"t":383,"v":-131,"t2":383,"v2":-181},{"t":383,"v":-181,"t2":433,"v2":-181}]},
    "mark":{"type":"rule","color":"black","strokeWidth":1.5},
    "encoding":{"x2":{"field":"t2"},"y2":{"field":"v2"}}},
   {"data":{"values":[{"t":58,"v":-53.4,"l":"2.3 min"},{"t":68,"v":-154,"l":"1.7 min"},{"t":68,"v":-189.6,"l":"0.7 min"},{"t":412,"v":-158,"l":"50 pA"},{"t":374,"v":-200,"l":"50 ms"}]},
    "mark":{"type":"text","align":"left","baseline":"middle","fontSize":16,"color":"black"},
    "encoding":{"text":{"field":"l"}}},
   {"data":{"values":[{"t":-94,"v":30.4,"l":"A"}]},
    "mark":{"type":"text","align":"center","baseline":"middle","fontSize":25,"fontWeight":"bold","color":"black"},
    "encoding":{"text":{"field":"l"}}}
  ]},
 {"width":179,"height":148,"view":{"stroke":null},
  "encoding":{"x":{"field":"t","type":"quantitative","scale":{"domain":[-5,246]},"axis":{"orient":"bottom","domain":true,"domainColor":"black","domainWidth":1.3,"offset":0,"tickSize":4,"labelPadding":2,"titlePadding":2,"values":[0,50,100,150,200],"labelExpr":"datum.value%100==0?datum.label:''","title":"Time (ms)"}},
   "y":{"field":"v","type":"quantitative","scale":{"domain":[0,1.3]},"axis":{"orient":"left","domain":true,"domainColor":"black","domainWidth":1.3,"offset":0,"tickSize":4,"values":[0.4,0.8,1.2],"format":".1f","title":"Extent (µm)"}}},
  "layer":[
   {"data":{"name":"tb"},"transform":[{"filter":"datum.k=='b'"}],"mark":{"type":"line","color":"#1a1aee","strokeWidth":2.5}},
   {"data":{"name":"tb"},"transform":[{"filter":"datum.k=='p'"}],"mark":{"type":"line","color":"#9b30f0","strokeWidth":2.5}},
   {"data":{"name":"tb"},"transform":[{"filter":"datum.k=='r'"}],"mark":{"type":"line","color":"#e3161b","strokeWidth":2}},
   {"data":{"name":"fb"},"mark":{"type":"line","color":"black","strokeWidth":1.5,"interpolate":"monotone"},"encoding":{"detail":{"field":"k"}}},
   {"data":{"values":[{"t":253,"v":1.205,"l":"0.7 min"},{"t":253,"v":0.94,"l":"1.7 min"},{"t":253,"v":0.64,"l":"2.3 min"}]},
    "mark":{"type":"text","align":"left","baseline":"middle","fontSize":16,"color":"black"},
    "encoding":{"text":{"field":"l"}}},
   {"data":{"values":[{"t":-45,"v":1.5,"l":"B"}]},
    "mark":{"type":"text","align":"center","baseline":"middle","fontSize":25,"fontWeight":"bold","color":"black"},
    "encoding":{"text":{"field":"l"}}}
  ]}
 ],"spacing":99},
{"columns":2,"bounds":"flush","spacing":{"row":12,"column":112},
 "concat":[
 {"width":208,"height":177,
  "encoding":{"x":{"field":"x","type":"quantitative","scale":{"domain":[-0.06,3.3]},"axis":null},"y":{"field":"y","type":"quantitative","scale":{"domain":[-0.07,1.19]},"axis":null}},
  "layer":[
   {"data":{"name":"lines"},"transform":[{"filter":"datum.p=='C'&&datum.t=='wt'"}],"mark":{"type":"line","color":"#b8b8b8","strokeWidth":6,"clip":true,"interpolate":"monotone"},
    "encoding":{"x":{"field":"x","type":"quantitative","scale":{"domain":[-0.06,3.3]},"axis":{"orient":"bottom","values":[0,0.5,1,1.5,2,2.5,3],"labels":false,"title":null}},
     "y":{"field":"y","type":"quantitative","scale":{"domain":[-0.07,1.19]},"axis":{"orient":"left","values":[0,0.5,1],"format":".1f","title":null}},"detail":{"field":"k"}}},
   {"data":{"name":"lines"},"transform":[{"filter":"datum.p=='C'&&datum.t=='fit'"}],"mark":{"type":"line","color":"black","strokeWidth":1.3,"clip":true,"interpolate":"monotone"},
    "encoding":{"x":{"field":"x","type":"quantitative","scale":{"domain":[-0.06,3.3]},"axis":{"orient":"top","values":[0,0.5,1,1.5,2,2.5,3],"labels":false,"title":null}},
     "y":{"field":"y","type":"quantitative","scale":{"domain":[-0.07,1.19]},"axis":{"orient":"right","values":[0,0.5,1],"labels":false,"title":null}},"detail":{"field":"k"}}},
   {"data":{"name":"pts"},"transform":[{"filter":"datum.p=='C'&&isValid(datum.lo)"}],"mark":{"type":"rule","color":"black","strokeWidth":1.2},
    "encoding":{"y":{"field":"lo","type":"quantitative","scale":{"domain":[-0.07,1.19]},"axis":null},"y2":{"field":"hi"}}},
   {"data":{"name":"pts"},"transform":[{"filter":"datum.p=='C'&&isValid(datum.lo)"},{"fold":["lo","hi"],"as":["w","v"]}],"mark":{"type":"tick","orient":"horizontal","color":"black","size":8,"thickness":1.2},
    "encoding":{"y":{"field":"v","type":"quantitative","scale":{"domain":[-0.07,1.19]},"axis":null}}},
   {"data":{"name":"pts"},"transform":[{"filter":"datum.p=='C'"}],"mark":{"type":"point","shape":"circle","filled":true,"size":85,"opacity":1},
    "encoding":{"color":{"field":"s","type":"nominal","scale":{"domain":["b","r"],"range":["#1a1aee","#e3161b"]},"legend":null}}},
   {"data":{"values":[{"x":1.86,"x2":2.21,"y":0.51}]},"mark":{"type":"rule","color":"#b8b8b8","strokeWidth":6},"encoding":{"x2":{"field":"x2"}}},
   {"data":{"values":[{"x":1.56,"x2":2.03,"y":0.345},{"x":1.56,"x2":2.03,"y":0.17}]},"mark":{"type":"rule","color":"black","strokeWidth":1.3},"encoding":{"x2":{"field":"x2"}}},
   {"data":{"values":[{"x":1.56,"y":0.345,"s":"b"},{"x":1.56,"y":0.17,"s":"r"}]},"mark":{"type":"point","shape":"circle","filled":true,"size":85,"opacity":1},
    "encoding":{"color":{"field":"s","type":"nominal","scale":{"domain":["b","r"],"range":["#1a1aee","#e3161b"]},"legend":null}}},
   {"data":{"values":[{"x":2.03,"y":0.345,"s":"b"},{"x":2.03,"y":0.17,"s":"r"}]},"mark":{"type":"point","shape":"circle","filled":false,"fill":"white","size":70,"strokeWidth":2,"opacity":1},
    "encoding":{"color":{"field":"s","type":"nominal","scale":{"domain":["b","r"],"range":["#1a1aee","#e3161b"]},"legend":null}}},
   {"data":{"values":[{"x":2.36,"y":0.51,"l":"WT fit"},{"x":2.36,"y":0.345,"l":"Y61G"},{"x":2.36,"y":0.17,"l":"Y61G+"}]},"mark":{"type":"text","align":"left","baseline":"middle","fontSize":16,"color":"black"},
    "encoding":{"text":{"field":"l"}}},
   {"data":{"values":[{"x":3.2,"y":0.03,"l":"NMB-ADP"}]},"mark":{"type":"text","align":"right","baseline":"middle","fontSize":16,"color":"black"},
    "encoding":{"text":{"field":"l"}}},
   {"data":{"values":[{"x":-0.99,"y":0.43,"l":"P"}]},"mark":{"type":"text","align":"center","baseline":"middle","fontSize":19,"angle":270,"color":"black"},
    "encoding":{"text":{"field":"l"}}},
   {"data":{"values":[{"x":-0.89,"y":0.645,"l":"open"}]},"mark":{"type":"text","align":"center","baseline":"middle","fontSize":13,"angle":270,"color":"black"},
    "encoding":{"text":{"field":"l"}}},
   {"data":{"values":[{"x":-0.54,"y":1.11,"l":"C"}]},"mark":{"type":"text","align":"center","baseline":"middle","fontSize":25,"fontWeight":"bold","color":"black"},
    "encoding":{"text":{"field":"l"}}}
  ]},
 {"width":208,"height":177,
  "encoding":{"x":{"field":"x","type":"quantitative","scale":{"domain":[-0.06,3.3]},"axis":null},"y":{"field":"y","type":"quantitative","scale":{"domain":[-0.03,2.68]},"axis":null}},
  "layer":[
   {"data":{"name":"lines"},"transform":[{"filter":"datum.p=='D'&&datum.t=='wt'"}],"mark":{"type":"line","color":"#b8b8b8","strokeWidth":6,"clip":true,"interpolate":"monotone"},
    "encoding":{"x":{"field":"x","type":"quantitative","scale":{"domain":[-0.06,3.3]},"axis":{"orient":"bottom","values":[0,0.5,1,1.5,2,2.5,3],"labels":false,"title":null}},
     "y":{"field":"y","type":"quantitative","scale":{"domain":[-0.03,2.68]},"axis":{"orient":"left","values":[0,0.5,1,1.5,2,2.5],"labelExpr":"datum.value==0?'0':datum.value%1==0?format(datum.value,'.1f'):''","title":"Total extent (µm)"}},"detail":{"field":"k"}}},
   {"data":{"name":"lines"},"transform":[{"filter":"datum.p=='D'&&datum.t=='fit'"}],"mark":{"type":"line","color":"black","strokeWidth":1.3,"clip":true,"interpolate":"monotone"},
    "encoding":{"x":{"field":"x","type":"quantitative","scale":{"domain":[-0.06,3.3]},"axis":{"orient":"top","values":[0,0.5,1,1.5,2,2.5,3],"labels":false,"title":null}},
     "y":{"field":"y","type":"quantitative","scale":{"domain":[-0.03,2.68]},"axis":{"orient":"right","values":[0,0.5,1,1.5,2,2.5],"labels":false,"title":null}},"detail":{"field":"k"}}},
   {"data":{"name":"lines"},"transform":[{"filter":"datum.p=='D'&&datum.t=='dot'"}],"mark":{"type":"line","color":"black","strokeWidth":1.5,"strokeDash":[2,4],"clip":true}},
   {"data":{"name":"pts"},"transform":[{"filter":"datum.p=='D'&&isValid(datum.lo)"}],"mark":{"type":"rule","color":"black","strokeWidth":1.2},
    "encoding":{"y":{"field":"lo","type":"quantitative","scale":{"domain":[-0.03,2.68]},"axis":null},"y2":{"field":"hi"}}},
   {"data":{"name":"pts"},"transform":[{"filter":"datum.p=='D'&&isValid(datum.lo)"},{"fold":["lo","hi"],"as":["w","v"]}],"mark":{"type":"tick","orient":"horizontal","color":"black","size":8,"thickness":1.2},
    "encoding":{"y":{"field":"v","type":"quantitative","scale":{"domain":[-0.03,2.68]},"axis":null}}},
   {"data":{"name":"pts"},"transform":[{"filter":"datum.p=='D'"}],"mark":{"type":"point","shape":"circle","filled":true,"size":85,"opacity":1},
    "encoding":{"color":{"field":"s","type":"nominal","scale":{"domain":["b","r"],"range":["#1a1aee","#e3161b"]},"legend":null}}},
   {"data":{"values":[{"x":-0.52,"y":2.54,"l":"D"}]},"mark":{"type":"text","align":"center","baseline":"middle","fontSize":25,"fontWeight":"bold","color":"black"},
    "encoding":{"text":{"field":"l"}}}
  ]},
 {"width":208,"height":177,
  "encoding":{"x":{"field":"x","type":"quantitative","scale":{"domain":[-0.06,3.3]},"axis":null},"y":{"field":"y","type":"quantitative","scale":{"domain":[-0.04,1.25]},"axis":null}},
  "layer":[
   {"data":{"name":"lines"},"transform":[{"filter":"datum.p=='E'&&datum.t=='wt'"}],"mark":{"type":"line","color":"#b8b8b8","strokeWidth":6,"clip":true,"interpolate":"monotone"},
    "encoding":{"x":{"field":"x","type":"quantitative","scale":{"domain":[-0.06,3.3]},"axis":{"orient":"bottom","values":[0,0.5,1,1.5,2,2.5,3],"labels":false,"title":null}},
     "y":{"field":"y","type":"quantitative","scale":{"domain":[-0.04,1.25]},"axis":{"orient":"left","values":[0,0.25,0.5,0.75,1],"labelExpr":"datum.value==0?'0':datum.value==0.5?'0.5':datum.value==1?'1.0':''","title":"Fast extent (µm)"}},"detail":{"field":"k"}}},
   {"data":{"name":"lines"},"transform":[{"filter":"datum.p=='E'&&datum.t=='fit'"}],"mark":{"type":"line","color":"black","strokeWidth":1.3,"clip":true,"interpolate":"monotone"},
    "encoding":{"x":{"field":"x","type":"quantitative","scale":{"domain":[-0.06,3.3]},"axis":{"orient":"top","values":[0,0.5,1,1.5,2,2.5,3],"labels":false,"title":null}},
     "y":{"field":"y","type":"quantitative","scale":{"domain":[-0.04,1.25]},"axis":{"orient":"right","values":[0,0.25,0.5,0.75,1],"labels":false,"title":null}},"detail":{"field":"k"}}},
   {"data":{"name":"lines"},"transform":[{"filter":"datum.p=='E'&&datum.t=='dot'"}],"mark":{"type":"line","color":"black","strokeWidth":1.5,"strokeDash":[2,4],"clip":true}},
   {"data":{"name":"pts"},"transform":[{"filter":"datum.p=='E'&&isValid(datum.lo)"}],"mark":{"type":"rule","color":"black","strokeWidth":1.2},
    "encoding":{"y":{"field":"lo","type":"quantitative","scale":{"domain":[-0.04,1.25]},"axis":null},"y2":{"field":"hi"}}},
   {"data":{"name":"pts"},"transform":[{"filter":"datum.p=='E'&&isValid(datum.lo)"},{"fold":["lo","hi"],"as":["w","v"]}],"mark":{"type":"tick","orient":"horizontal","color":"black","size":8,"thickness":1.2},
    "encoding":{"y":{"field":"v","type":"quantitative","scale":{"domain":[-0.04,1.25]},"axis":null}}},
   {"data":{"name":"pts"},"transform":[{"filter":"datum.p=='E'"}],"mark":{"type":"point","shape":"circle","filled":true,"size":85,"opacity":1},
    "encoding":{"color":{"field":"s","type":"nominal","scale":{"domain":["b","r"],"range":["#1a1aee","#e3161b"]},"legend":null}}},
   {"data":{"values":[{"x":-0.54,"y":1.19,"l":"E"}]},"mark":{"type":"text","align":"center","baseline":"middle","fontSize":25,"fontWeight":"bold","color":"black"},
    "encoding":{"text":{"field":"l"}}}
  ]},
 {"width":208,"height":177,
  "encoding":{"x":{"field":"x","type":"quantitative","scale":{"domain":[-0.06,3.3]},"axis":null},"y":{"field":"y","type":"quantitative","scale":{"domain":[-0.04,1.25]},"axis":null}},
  "layer":[
   {"data":{"name":"lines"},"transform":[{"filter":"datum.p=='F'&&datum.t=='wt'"}],"mark":{"type":"line","color":"#b8b8b8","strokeWidth":6,"clip":true,"interpolate":"monotone"},
    "encoding":{"x":{"field":"x","type":"quantitative","scale":{"domain":[-0.06,3.3]},"axis":{"orient":"bottom","values":[0,0.5,1,1.5,2,2.5,3],"labels":false,"title":null}},
     "y":{"field":"y","type":"quantitative","scale":{"domain":[-0.04,1.25]},"axis":{"orient":"left","values":[0,0.25,0.5,0.75,1],"labelExpr":"datum.value==0?'0':datum.value==0.5?'0.5':datum.value==1?'1.0':''","title":"Slow extent (µm)"}},"detail":{"field":"k"}}},
   {"data":{"name":"lines"},"transform":[{"filter":"datum.p=='F'&&datum.t=='fit'"}],"mark":{"type":"line","color":"black","strokeWidth":1.3,"clip":true,"interpolate":"monotone"},
    "encoding":{"x":{"field":"x","type":"quantitative","scale":{"domain":[-0.06,3.3]},"axis":{"orient":"top","values":[0,0.5,1,1.5,2,2.5,3],"labels":false,"title":null}},
     "y":{"field":"y","type":"quantitative","scale":{"domain":[-0.04,1.25]},"axis":{"orient":"right","values":[0,0.25,0.5,0.75,1],"labels":false,"title":null}},"detail":{"field":"k"}}},
   {"data":{"name":"lines"},"transform":[{"filter":"datum.p=='F'&&datum.t=='dot'"}],"mark":{"type":"line","color":"black","strokeWidth":1.5,"strokeDash":[2,4],"clip":true}},
   {"data":{"name":"pts"},"transform":[{"filter":"datum.p=='F'&&isValid(datum.lo)"}],"mark":{"type":"rule","color":"black","strokeWidth":1.2},
    "encoding":{"y":{"field":"lo","type":"quantitative","scale":{"domain":[-0.04,1.25]},"axis":null},"y2":{"field":"hi"}}},
   {"data":{"name":"pts"},"transform":[{"filter":"datum.p=='F'&&isValid(datum.lo)"},{"fold":["lo","hi"],"as":["w","v"]}],"mark":{"type":"tick","orient":"horizontal","color":"black","size":8,"thickness":1.2},
    "encoding":{"y":{"field":"v","type":"quantitative","scale":{"domain":[-0.04,1.25]},"axis":null}}},
   {"data":{"name":"pts"},"transform":[{"filter":"datum.p=='F'"}],"mark":{"type":"point","shape":"circle","filled":false,"fill":"white","size":70,"strokeWidth":2,"opacity":1},
    "encoding":{"color":{"field":"s","type":"nominal","scale":{"domain":["b","r"],"range":["#1a1aee","#e3161b"]},"legend":null}}},
   {"data":{"values":[{"x":-0.55,"y":1.18,"l":"F"}]},"mark":{"type":"text","align":"center","baseline":"middle","fontSize":25,"fontWeight":"bold","color":"black"},
    "encoding":{"text":{"field":"l"}}}
  ]},
 {"width":208,"height":177,
  "encoding":{"x":{"field":"x","type":"quantitative","scale":{"domain":[-0.06,3.3]},"axis":null},"y":{"field":"y","type":"quantitative","scale":{"type":"log","domain":[4,500]},"axis":null}},
  "layer":[
   {"data":{"name":"lines"},"transform":[{"filter":"datum.p=='G'&&datum.t=='wt'"}],"mark":{"type":"line","color":"#b8b8b8","strokeWidth":6,"clip":true,"interpolate":"monotone"},
    "encoding":{"x":{"field":"x","type":"quantitative","scale":{"domain":[-0.06,3.3]},"axis":{"orient":"bottom","values":[0,0.5,1,1.5,2,2.5,3],"labels":false,"title":null}},
     "y":{"field":"y","type":"quantitative","scale":{"type":"log","domain":[4,500]},"axis":{"orient":"left","values":[5,6,7,8,9,10,20,30,40,50,60,70,80,90,100,200,300,400,500],"format":"d","labelExpr":"datum.value==10||datum.value==100?datum.label:''","title":"Fast τ (ms)"}},"detail":{"field":"k"}}},
   {"data":{"name":"lines"},"transform":[{"filter":"datum.p=='G'&&datum.t=='fit'"}],"mark":{"type":"line","color":"black","strokeWidth":1.3,"clip":true},
    "encoding":{"x":{"field":"x","type":"quantitative","scale":{"domain":[-0.06,3.3]},"axis":{"orient":"top","values":[0,0.5,1,1.5,2,2.5,3],"labels":false,"title":null}},
     "y":{"field":"y","type":"quantitative","scale":{"type":"log","domain":[4,500]},"axis":{"orient":"right","values":[5,6,7,8,9,10,20,30,40,50,60,70,80,90,100,200,300,400,500],"labels":false,"title":null}},"detail":{"field":"k"}}},
   {"data":{"name":"pts"},"transform":[{"filter":"datum.p=='G'&&isValid(datum.lo)"}],"mark":{"type":"rule","color":"black","strokeWidth":1.2},
    "encoding":{"y":{"field":"lo","type":"quantitative","scale":{"type":"log","domain":[4,500]},"axis":null},"y2":{"field":"hi"}}},
   {"data":{"name":"pts"},"transform":[{"filter":"datum.p=='G'&&isValid(datum.lo)"},{"fold":["lo","hi"],"as":["w","v"]}],"mark":{"type":"tick","orient":"horizontal","color":"black","size":8,"thickness":1.2},
    "encoding":{"y":{"field":"v","type":"quantitative","scale":{"type":"log","domain":[4,500]},"axis":null}}},
   {"data":{"name":"pts"},"transform":[{"filter":"datum.p=='G'"}],"mark":{"type":"point","shape":"circle","filled":true,"size":85,"opacity":1},
    "encoding":{"color":{"field":"s","type":"nominal","scale":{"domain":["b","r"],"range":["#1a1aee","#e3161b"]},"legend":null}}},
   {"data":{"values":[{"x":-0.54,"y":406,"l":"G"}]},"mark":{"type":"text","align":"center","baseline":"middle","fontSize":25,"fontWeight":"bold","color":"black"},
    "encoding":{"text":{"field":"l"}}}
  ]},
 {"width":208,"height":177,
  "encoding":{"x":{"field":"x","type":"quantitative","scale":{"domain":[-0.06,3.3]},"axis":null},"y":{"field":"y","type":"quantitative","scale":{"type":"log","domain":[4,500]},"axis":null}},
  "layer":[
   {"data":{"name":"lines"},"transform":[{"filter":"datum.p=='H'&&datum.t=='wt'"}],"mark":{"type":"line","color":"#b8b8b8","strokeWidth":6,"clip":true},
    "encoding":{"x":{"field":"x","type":"quantitative","scale":{"domain":[-0.06,3.3]},"axis":{"orient":"bottom","values":[0,0.5,1,1.5,2,2.5,3],"labels":false,"title":null}},
     "y":{"field":"y","type":"quantitative","scale":{"type":"log","domain":[4,500]},"axis":{"orient":"left","values":[5,6,7,8,9,10,20,30,40,50,60,70,80,90,100,200,300,400,500],"format":"d","labelExpr":"datum.value==10||datum.value==100?datum.label:''","title":"Slow τ (ms)"}},"detail":{"field":"k"}}},
   {"data":{"name":"lines"},"transform":[{"filter":"datum.p=='H'&&datum.t=='fit'"}],"mark":{"type":"line","color":"black","strokeWidth":1.3,"clip":true},
    "encoding":{"x":{"field":"x","type":"quantitative","scale":{"domain":[-0.06,3.3]},"axis":{"orient":"top","values":[0,0.5,1,1.5,2,2.5,3],"labels":false,"title":null}},
     "y":{"field":"y","type":"quantitative","scale":{"type":"log","domain":[4,500]},"axis":{"orient":"right","values":[5,6,7,8,9,10,20,30,40,50,60,70,80,90,100,200,300,400,500],"labels":false,"title":null}},"detail":{"field":"k"}}},
   {"data":{"name":"pts"},"transform":[{"filter":"datum.p=='H'&&isValid(datum.lo)"}],"mark":{"type":"rule","color":"black","strokeWidth":1.2},
    "encoding":{"y":{"field":"lo","type":"quantitative","scale":{"type":"log","domain":[4,500]},"axis":null},"y2":{"field":"hi"}}},
   {"data":{"name":"pts"},"transform":[{"filter":"datum.p=='H'&&isValid(datum.lo)"},{"fold":["lo","hi"],"as":["w","v"]}],"mark":{"type":"tick","orient":"horizontal","color":"black","size":8,"thickness":1.2},
    "encoding":{"y":{"field":"v","type":"quantitative","scale":{"type":"log","domain":[4,500]},"axis":null}}},
   {"data":{"name":"pts"},"transform":[{"filter":"datum.p=='H'"}],"mark":{"type":"point","shape":"circle","filled":false,"fill":"white","size":70,"strokeWidth":2,"opacity":1},
    "encoding":{"color":{"field":"s","type":"nominal","scale":{"domain":["b","r"],"range":["#1a1aee","#e3161b"]},"legend":null}}},
   {"data":{"values":[{"x":-0.53,"y":412,"l":"H"}]},"mark":{"type":"text","align":"center","baseline":"middle","fontSize":25,"fontWeight":"bold","color":"black"},
    "encoding":{"text":{"field":"l"}}}
  ]},
 {"width":208,"height":177,
  "encoding":{"x":{"field":"x","type":"quantitative","scale":{"domain":[-0.06,3.3]},"axis":null},"y":{"field":"y","type":"quantitative","scale":{"domain":[-5,290]},"axis":null}},
  "layer":[
   {"data":{"name":"lines"},"transform":[{"filter":"datum.p=='I'&&datum.t=='wt'"}],"mark":{"type":"line","color":"#b8b8b8","strokeWidth":6,"clip":true,"interpolate":"monotone"},
    "encoding":{"x":{"field":"x","type":"quantitative","scale":{"domain":[-0.06,3.3]},"axis":{"orient":"bottom","values":[0,0.5,1,1.5,2,2.5,3],"labelExpr":"datum.value%1==0?format(datum.value,'d'):''","title":"Displacement (µm)"}},
     "y":{"field":"y","type":"quantitative","scale":{"domain":[-5,290]},"axis":{"orient":"left","values":[0,50,100,150,200,250],"labelExpr":"datum.value%100==0?format(datum.value,'d'):''","title":"Fast rate (µm/s)"}},"detail":{"field":"k"}}},
   {"data":{"name":"lines"},"transform":[{"filter":"datum.p=='I'&&datum.t=='fit'"}],"mark":{"type":"line","color":"black","strokeWidth":1.3,"clip":true,"interpolate":"monotone"},
    "encoding":{"x":{"field":"x","type":"quantitative","scale":{"domain":[-0.06,3.3]},"axis":{"orient":"top","values":[0,0.5,1,1.5,2,2.5,3],"labels":false,"title":null}},
     "y":{"field":"y","type":"quantitative","scale":{"domain":[-5,290]},"axis":{"orient":"right","values":[0,50,100,150,200,250],"labels":false,"title":null}},"detail":{"field":"k"}}},
   {"data":{"name":"pts"},"transform":[{"filter":"datum.p=='I'&&isValid(datum.lo)"}],"mark":{"type":"rule","color":"black","strokeWidth":1.2},
    "encoding":{"y":{"field":"lo","type":"quantitative","scale":{"domain":[-5,290]},"axis":null},"y2":{"field":"hi"}}},
   {"data":{"name":"pts"},"transform":[{"filter":"datum.p=='I'&&isValid(datum.lo)"},{"fold":["lo","hi"],"as":["w","v"]}],"mark":{"type":"tick","orient":"horizontal","color":"black","size":8,"thickness":1.2},
    "encoding":{"y":{"field":"v","type":"quantitative","scale":{"domain":[-5,290]},"axis":null}}},
   {"data":{"name":"pts"},"transform":[{"filter":"datum.p=='I'"}],"mark":{"type":"point","shape":"circle","filled":true,"size":85,"opacity":1},
    "encoding":{"color":{"field":"s","type":"nominal","scale":{"domain":["b","r"],"range":["#1a1aee","#e3161b"]},"legend":null}}},
   {"data":{"values":[{"x":-0.42,"y":273,"l":"I"}]},"mark":{"type":"text","align":"center","baseline":"middle","fontSize":25,"fontWeight":"bold","color":"black"},
    "encoding":{"text":{"field":"l"}}}
  ]},
 {"width":208,"height":177,
  "encoding":{"x":{"field":"x","type":"quantitative","scale":{"domain":[-0.06,3.3]},"axis":null},"y":{"field":"y","type":"quantitative","scale":{"domain":[-0.5,29]},"axis":null}},
  "layer":[
   {"data":{"name":"lines"},"transform":[{"filter":"datum.p=='J'&&datum.t=='wt'"}],"mark":{"type":"line","color":"#b8b8b8","strokeWidth":6,"clip":true,"interpolate":"monotone"},
    "encoding":{"x":{"field":"x","type":"quantitative","scale":{"domain":[-0.06,3.3]},"axis":{"orient":"bottom","values":[0,0.5,1,1.5,2,2.5,3],"labelExpr":"datum.value%1==0?format(datum.value,'d'):''","title":"Displacement (µm)"}},
     "y":{"field":"y","type":"quantitative","scale":{"domain":[-0.5,29]},"axis":{"orient":"left","values":[0,5,10,15,20,25],"labelExpr":"datum.value%10==0?format(datum.value,'d'):''","title":"Slow rate (µm/s)"}},"detail":{"field":"k"}}},
   {"data":{"name":"lines"},"transform":[{"filter":"datum.p=='J'&&datum.t=='fit'"}],"mark":{"type":"line","color":"black","strokeWidth":1.3,"clip":true,"interpolate":"monotone"},
    "encoding":{"x":{"field":"x","type":"quantitative","scale":{"domain":[-0.06,3.3]},"axis":{"orient":"top","values":[0,0.5,1,1.5,2,2.5,3],"labels":false,"title":null}},
     "y":{"field":"y","type":"quantitative","scale":{"domain":[-0.5,29]},"axis":{"orient":"right","values":[0,5,10,15,20,25],"labels":false,"title":null}},"detail":{"field":"k"}}},
   {"data":{"name":"pts"},"transform":[{"filter":"datum.p=='J'&&isValid(datum.lo)"}],"mark":{"type":"rule","color":"black","strokeWidth":1.2},
    "encoding":{"y":{"field":"lo","type":"quantitative","scale":{"domain":[-0.5,29]},"axis":null},"y2":{"field":"hi"}}},
   {"data":{"name":"pts"},"transform":[{"filter":"datum.p=='J'&&isValid(datum.lo)"},{"fold":["lo","hi"],"as":["w","v"]}],"mark":{"type":"tick","orient":"horizontal","color":"black","size":8,"thickness":1.2},
    "encoding":{"y":{"field":"v","type":"quantitative","scale":{"domain":[-0.5,29]},"axis":null}}},
   {"data":{"name":"pts"},"transform":[{"filter":"datum.p=='J'"}],"mark":{"type":"point","shape":"circle","filled":false,"fill":"white","size":70,"strokeWidth":2,"opacity":1},
    "encoding":{"color":{"field":"s","type":"nominal","scale":{"domain":["b","r"],"range":["#1a1aee","#e3161b"]},"legend":null}}},
   {"data":{"values":[{"x":-0.45,"y":27.5,"l":"J"}]},"mark":{"type":"text","align":"center","baseline":"middle","fontSize":25,"fontWeight":"bold","color":"black"},
    "encoding":{"text":{"field":"l"}}}
  ]}
 ]}
],
"config":{
 "font":"Liberation Sans",
 "view":{"stroke":"black","strokeWidth":1.5},
 "axis":{"labelFont":"Liberation Sans","titleFont":"Liberation Sans","labelFontSize":16,"titleFontSize":18,"labelColor":"black","titleColor":"black","titleFontWeight":"normal","tickColor":"black","tickSize":5,"offset":-5,"tickWidth":1.3,"domain":false,"grid":false,"labelPadding":4,"titlePadding":14,"labelFlush":false,"labelOverlap":false},
 "text":{"font":"Liberation Sans"}
}
}
